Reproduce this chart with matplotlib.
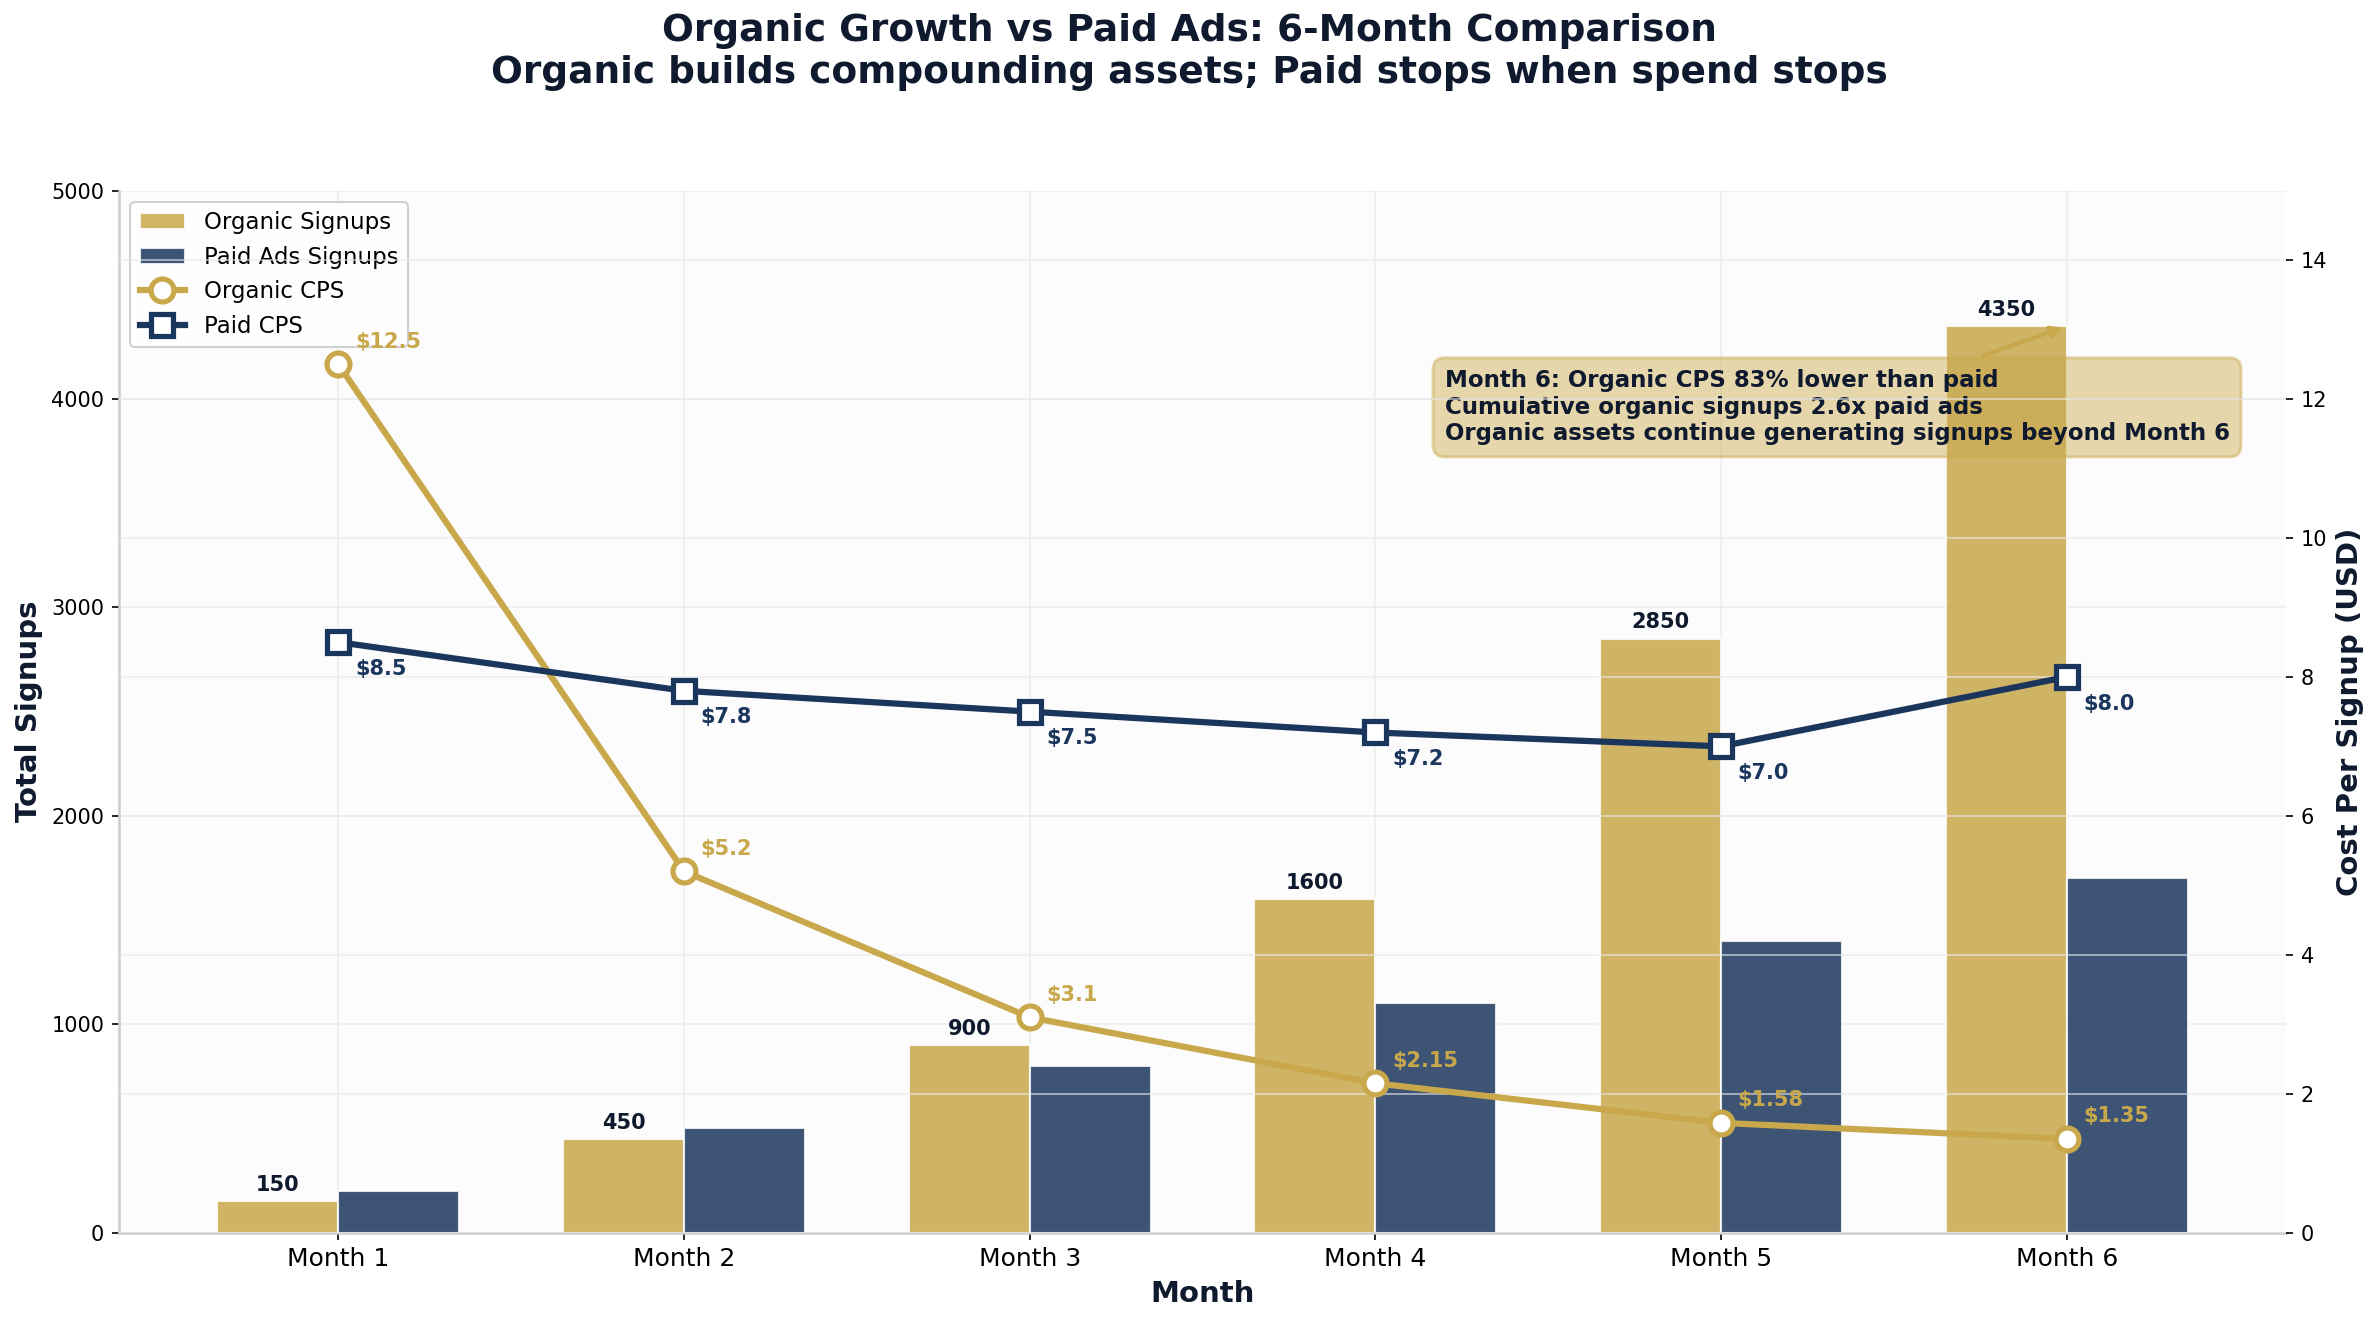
import matplotlib
matplotlib.use("Agg")
import matplotlib.pyplot as plt
import numpy as np

months = ["Month 1", "Month 2", "Month 3", "Month 4", "Month 5", "Month 6"]
organic_signups = [150, 450, 900, 1600, 2850, 4350]
paid_signups = [200, 500, 800, 1100, 1400, 1700]
organic_cps = [12.5, 5.2, 3.1, 2.15, 1.58, 1.35]
paid_cps = [8.5, 7.8, 7.5, 7.2, 7.0, 8.0]
organic_cps_labels = ["$12.5", "$5.2", "$3.1", "$2.15", "$1.58", "$1.35"]
paid_cps_labels = ["$8.5", "$7.8", "$7.5", "$7.2", "$7.0", "$8.0"]

GOLD = "#C9A84C"
NAVY = "#1B365D"
DARK = "#0F1A2E"

plt.rcParams['font.family'] = ['DejaVu Sans']

fig = plt.figure(figsize=(2379/150, 1324/150), dpi=150)
ax = fig.add_axes([0.050, 0.069, 0.911, 0.787])
ax.set_facecolor("#FCFCFC")
x = np.arange(len(months))
w = 0.35

b1 = ax.bar(x - w/2, organic_signups, w, color=GOLD, alpha=0.85, edgecolor="white", linewidth=1,
            label="Organic Signups", zorder=2)
b2 = ax.bar(x + w/2, paid_signups, w, color=NAVY, alpha=0.85, edgecolor="white", linewidth=1,
            label="Paid Ads Signups", zorder=2)
for xi, v in zip(x, organic_signups):
    ax.text(xi - w/2, v + 30, f"{v}", ha="center", va="bottom", fontsize=10, fontweight="bold", color=DARK)

ax.set_ylim(0, 5000)
ax.set_xticks(x)
ax.set_xticklabels(months, fontsize=12)
ax.set_xlabel("Month", fontsize=14, fontweight="bold", color=DARK)
ax.set_ylabel("Total Signups", fontsize=14, fontweight="bold", color=DARK)
ax.grid(True, color="#E8E8E8", linewidth=0.8, alpha=0.7, zorder=0)
ax.set_axisbelow(True)
for s in ["top", "right"]:
    ax.spines[s].set_visible(False)
ax.spines["left"].set_color("#CCCCCC")
ax.spines["bottom"].set_color("#CCCCCC")
ax.spines["left"].set_linewidth(1.2)
ax.spines["bottom"].set_linewidth(1.2)
ax.tick_params(axis="y", labelsize=10)

ax2 = ax.twinx()
l1, = ax2.plot(x, organic_cps, color=GOLD, lw=3, marker="o", markersize=11,
               markerfacecolor="white", markeredgecolor=GOLD, markeredgewidth=2.5, label="Organic CPS", zorder=5)
l2, = ax2.plot(x, paid_cps, color=NAVY, lw=3, marker="s", markersize=11,
               markerfacecolor="white", markeredgecolor=NAVY, markeredgewidth=2.5, label="Paid CPS", zorder=5)
for xi, v, t in zip(x, organic_cps, organic_cps_labels):
    ax2.annotate(t, (xi, v), xytext=(8, 6), textcoords="offset points", ha="left", va="bottom",
                 fontsize=10, fontweight="bold", color=GOLD)
for xi, v, t in zip(x, paid_cps, paid_cps_labels):
    ax2.annotate(t, (xi, v), xytext=(8, -8), textcoords="offset points", ha="left", va="top",
                 fontsize=10, fontweight="bold", color=NAVY)
ax2.set_ylim(0, 15)
ax2.set_ylabel("Cost Per Signup (USD)", fontsize=14, fontweight="bold", color=DARK)
ax2.grid(True, axis="y", color="#E8E8E8", linewidth=0.8, alpha=0.7)
for s in ["top", "right", "left", "bottom"]:
    ax2.spines[s].set_visible(False)
ax2.tick_params(axis="y", labelsize=10)

ax.annotate("Month 6: Organic CPS 83% lower than paid\nCumulative organic signups 2.6x paid ads\nOrganic assets continue generating signups beyond Month 6",
            xy=(5, 4350), xytext=(3.2, 3960), ha="left", va="center",
            fontsize=11, fontweight="bold", color=DARK,
            bbox=dict(boxstyle="round,pad=0.5", facecolor=GOLD, alpha=0.45, edgecolor=GOLD, linewidth=1.5),
            arrowprops=dict(arrowstyle="->", color=GOLD, lw=2), zorder=10)

ax.legend([b1, b2, l1, l2], ["Organic Signups", "Paid Ads Signups", "Organic CPS", "Paid CPS"],
          loc="upper left", fontsize=11, framealpha=0.9, edgecolor="#CCCCCC")

fig.suptitle("Organic Growth vs Paid Ads: 6-Month Comparison\nOrganic builds compounding assets; Paid stops when spend stops",
             fontsize=18, fontweight="bold", color=DARK, y=0.99)

fig.savefig("out.png", dpi=150)
